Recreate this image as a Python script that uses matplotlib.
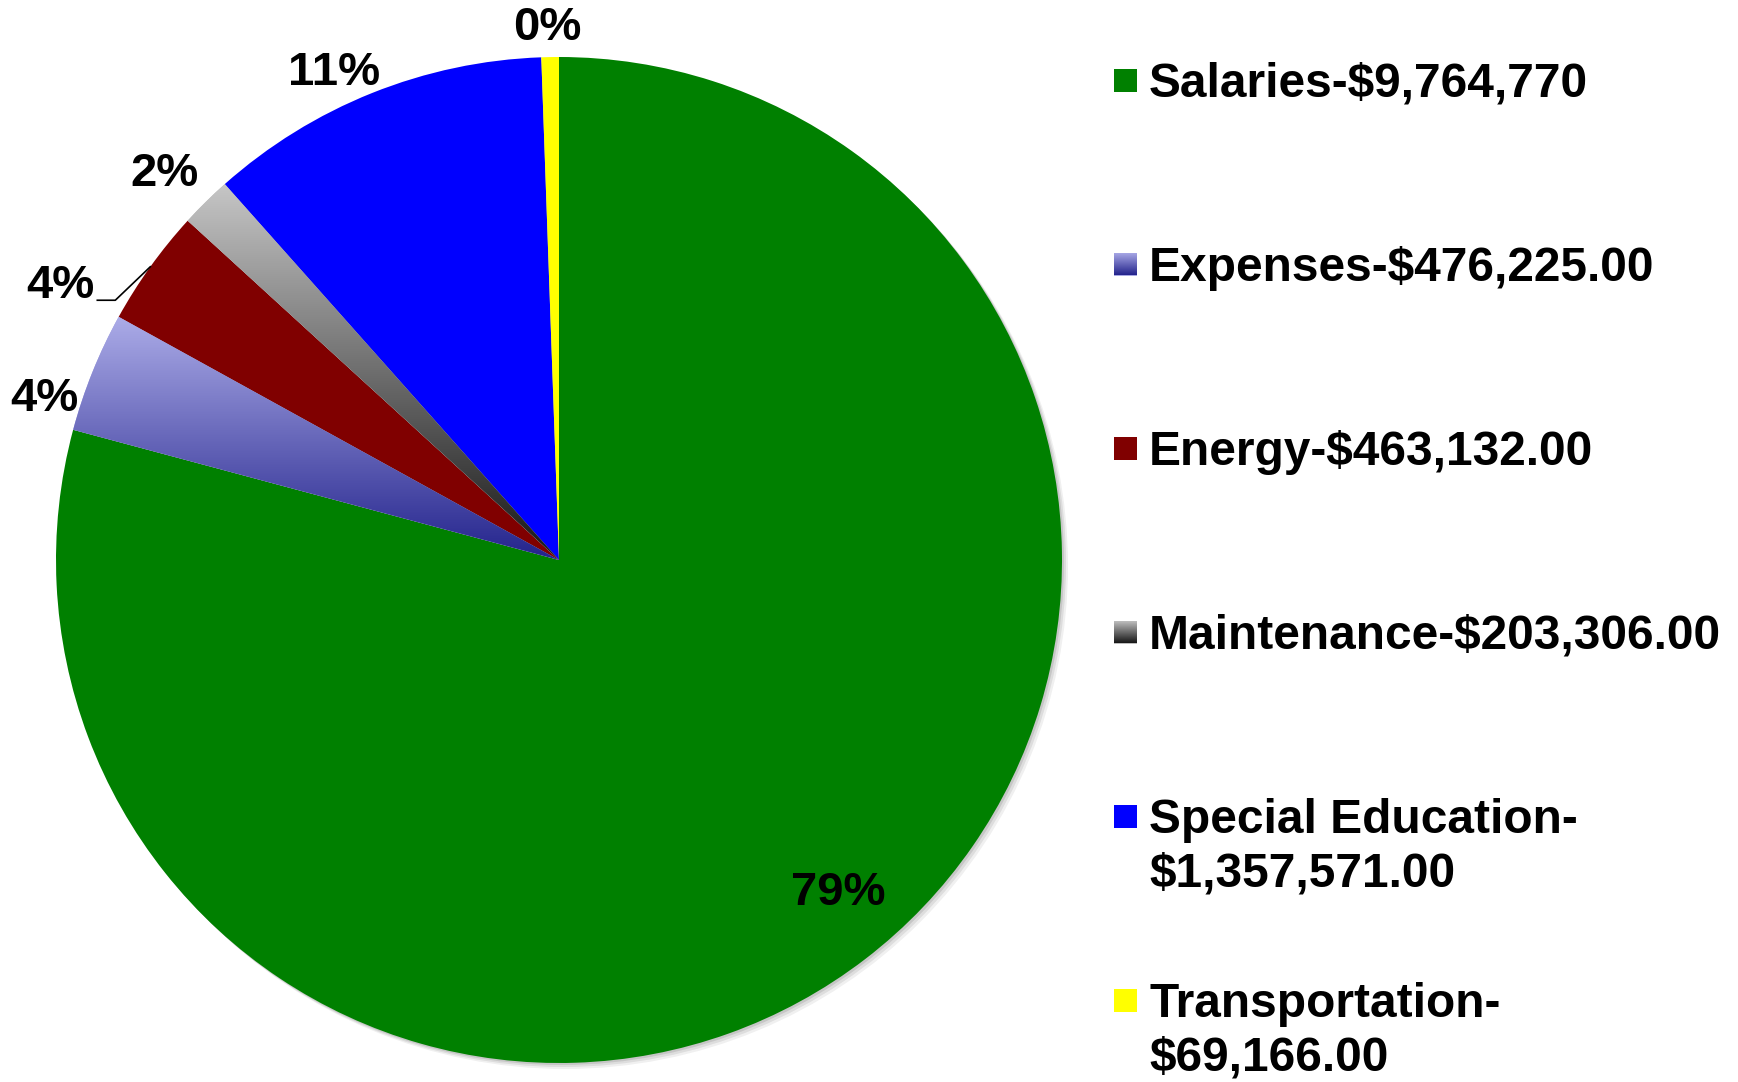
import numpy as np
import matplotlib.pyplot as plt
from matplotlib.patches import Rectangle, Circle
from matplotlib.colors import LinearSegmentedColormap

# budget data
categories = ["Salaries", "Expenses", "Energy", "Maintenance",
              "Special Education", "Transportation"]
amounts = [9764770.00, 476225.00, 463132.00, 203306.00, 1357571.00, 69166.00]
legend_labels = ["Salaries-$9,764,770",
                 "Expenses-$476,225.00",
                 "Energy-$463,132.00",
                 "Maintenance-$203,306.00",
                 "Special Education-\n$1,357,571.00",
                 "Transportation-\n$69,166.00"]
pct_labels = ["79%", "4%", "4%", "2%", "11%", "0%"]

colors = ["#008000", "#a8a8e4", "#800000", "#bdbdbd", "#0000ff", "#ffff00"]
# vertical gradients (top colour, bottom colour) for a few slices
gradients = {1: ("#acace8", "#23238c"), 3: ("#c6c6c6", "#161616")}

# label placement: radius factor and small angle nudge per slice
label_rfac = [0.863, 1.072, 1.131, 1.097, 1.066, 1.058]
label_dang = [2.5, 4.6, 6.9, 1.0, 3.0, 0.3]

FONT = "Liberation Sans"
W, H = 1738, 1082


def grad_cmap(top, bottom):
    return LinearSegmentedColormap.from_list("g", [bottom, top])


def fill_gradient(ax, patch, top, bottom, x0, x1, y0, y1):
    grad = np.linspace(1, 0, 256).reshape(-1, 1)
    im = ax.imshow(grad, extent=(x0, x1, y0, y1), aspect="auto",
                   cmap=grad_cmap(top, bottom), zorder=patch.get_zorder() + 0.1,
                   interpolation="bilinear")
    im.set_clip_path(patch)
    return im


def main():
    fig = plt.figure(figsize=(W / 100, H / 100), dpi=100)
    ax = fig.add_axes([0, 0, 1, 1])

    cx, cy, R = 559, H - 560, 503

    # soft shadow behind the pie
    for k, a in [(6, 0.06), (4, 0.08), (2, 0.10)]:
        ax.add_patch(Circle((cx + k, cy - k), R, color="black", alpha=a, lw=0, zorder=0))

    wedges, _ = ax.pie(amounts, colors=colors, startangle=90, counterclock=False,
                       radius=R, center=(cx, cy), frame=True,
                       wedgeprops=dict(linewidth=0, zorder=1))

    for i, (top, bottom) in gradients.items():
        w = wedges[i]
        v = w.get_path().vertices
        fill_gradient(ax, w, top, bottom, v[:, 0].min(), v[:, 0].max(),
                      v[:, 1].min(), v[:, 1].max())

    # percentage labels
    for i, w in enumerate(wedges):
        mid = (w.theta1 + w.theta2) / 2.0
        ang = np.deg2rad(mid + label_dang[i])
        tx = cx + R * label_rfac[i] * np.cos(ang)
        ty = cy + R * label_rfac[i] * np.sin(ang)
        ax.text(tx, ty, pct_labels[i], ha="center", va="center",
                fontsize=34, fontweight="bold", family=FONT, zorder=5)
        if i == 2:
            # leader line from the slice edge to the label
            ex = cx + R * np.cos(np.deg2rad(mid))
            ey = cy + R * np.sin(np.deg2rad(mid))
            kx, ky = tx + 55, ty - 14
            ax.plot([ex, kx, kx - 18], [ey, ky, ky], color="black", lw=1.2, zorder=5)

    # legend drawn by hand so the swatch sits on the first text line
    row0, step, line_gap = 80, 184.0, 53
    for i, lab in enumerate(legend_labels):
        yc = H - (row0 + i * step)
        sw = Rectangle((1114, yc - 11.5), 23, 23, color=colors[i], lw=0, zorder=3)
        ax.add_patch(sw)
        if i in gradients:
            top, bottom = gradients[i]
            fill_gradient(ax, sw, top, bottom, 1114, 1137, yc - 11.5, yc + 11.5)
        for k, line in enumerate(lab.split("\n")):
            ax.text(1149, yc - 17 - k * line_gap, line, ha="left", va="baseline",
                    fontsize=34.5, fontweight="bold", family=FONT, zorder=5)

    ax.set_xlim(0, W)
    ax.set_ylim(0, H)
    ax.set_aspect("auto")
    ax.axis("off")
    fig.savefig("out.png", dpi=100, facecolor="white")


if __name__ == "__main__":
    main()
